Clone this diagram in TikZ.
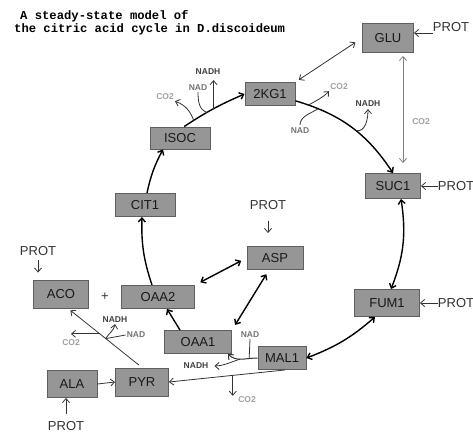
\documentclass[tikz,border=0pt]{standalone}
\usepackage{fontspec}
\setmainfont{Liberation Sans}
\newfontfamily\titlefont{Liberation Mono}
\usetikzlibrary{arrows.meta,calc}

\definecolor{boxfill}{RGB}{150,150,150}
\definecolor{boxline}{RGB}{95,95,95}
\definecolor{cogray}{RGB}{160,160,160}
\definecolor{nadgray}{RGB}{115,115,115}

\tikzset{
	met/.style={draw=boxline, fill=boxfill, line width=0.9pt, minimum height=23pt, inner sep=0pt,
		font=\fontsize{13}{13}\selectfont, text=black!90},
	prot/.style={inner sep=0pt, font=\fontsize{13}{13}\selectfont, text=black!80},
	cofac/.style={inner sep=1pt, font=\bfseries\fontsize{8.5}{8.5}\selectfont},
	cyc/.style={line width=1.4pt},
	link/.style={line width=0.8pt, draw=black!80},
}

\begin{document}
\begin{tikzpicture}[x=1pt,y=1pt,>={Straight Barb[length=4pt,width=7pt]}]
	\useasboundingbox (0,0) rectangle (473,432);
	
	\node[anchor=west,inner sep=0pt,font=\titlefont\bfseries\fontsize{12.2}{12.2}\selectfont] (title1) at (20,416) {A steady-state model of};
	\node[anchor=west,inner sep=0pt,font=\titlefont\bfseries\fontsize{12.2}{12.2}\selectfont] (title2) at (14,403) {the citric acid cycle in D.discoideum};
	
	% metabolites
	\node[met,minimum width=51pt,minimum height=29pt] (glu) at (388,394) {GLU};
	\node[met,minimum width=50pt] (kg) at (270,338) {2KG1};
	\node[met,minimum width=60pt,minimum height=22pt] (isoc) at (180,294) {ISOC};
	\node[met,minimum width=60pt] (cit) at (145,227) {CIT1};
	\node[met,minimum width=73pt] (oaa2) at (158,135) {OAA2};
	\node[met,minimum width=55pt,minimum height=28pt] (aco) at (61,138) {ACO};
	\node[met,minimum width=56pt] (asp) at (275,174) {ASP};
	\node[met,minimum width=67pt] (oaa1) at (198,90) {OAA1};
	\node[met,minimum width=48pt] (mal) at (282,74) {MAL1};
	\node[met,minimum width=53pt,minimum height=28pt] (pyr) at (142,50) {PYR};
	\node[met,minimum width=50pt,minimum height=27pt] (ala) at (72,48) {ALA};
	\node[met,minimum width=55pt,minimum height=25pt] (suc) at (393,246) {SUC1};
	\node[met,minimum width=65pt,minimum height=27pt] (fum) at (387,129) {FUM1};
	\node[prot] (plus) at (105,135) {+};
	
	% protein inputs
	\node[prot] (pglu) at (451,405) {PROT};
	\node[prot] (psuc) at (456,246) {PROT};
	\node[prot] (pfum) at (456,129) {PROT};
	\node[prot] (pasp) at (268,227) {PROT};
	\node[prot] (paco) at (38,181) {PROT};
	\node[prot] (pala) at (66,6) {PROT};
	
	\draw[link,->] (pglu.west |- 0,399) -- (glu.east |- 0,399);
	\draw[link,->] (psuc.west) -- (suc.east);
	\draw[link,->] (pfum.west) -- (fum.east);
	\draw[link,->,shorten <=11pt,shorten >=13pt] (pasp.south) -- (pasp.south |- asp.north);
	\draw[link,->,shorten <=4pt,shorten >=7pt] (paco.south) -- (paco.south |- aco.north);
	\draw[link,->,shorten <=7pt] (pala.north) -- (pala.north |- ala.south);
	
	% cofactor labels
	\node[cofac,text=cogray] (co2a) at (165,335) {CO2};
	\node[cofac,text=nadgray] (nada) at (198,344) {NAD};
	\node[cofac,text=black!75] (nadha) at (208,360) {NADH};
	\node[cofac,text=cogray] (co2b) at (339,345) {CO2};
	\node[cofac,text=nadgray] (nadb) at (300,301) {NAD};
	\node[cofac,text=black!75] (nadhb) at (368,328) {NADH};
	\node[cofac,text=cogray] (co2g) at (421,310) {CO2};
	\node[cofac,text=nadgray] (nadm) at (250,97) {NAD};
	\node[cofac,text=black!75] (nadhm) at (196,66) {NADH};
	\node[cofac,text=cogray] (co2m) at (247,32) {CO2};
	\node[cofac,text=black!75] (nadhp) at (115,112) {NADH};
	\node[cofac,text=nadgray] (nadp) at (136,97) {NAD};
	\node[cofac,text=cogray] (co2p) at (71,89) {CO2};
	
	% cycle
	\draw[cyc,->] (isoc.70) to[bend left=5] coordinate[pos=0.15] (i1) coordinate[pos=0.38] (i2) coordinate[pos=0.5] (i3) (kg.west);
	\draw[link,->] (i1) to[out=110,in=-20] (co2a.south east);
	\draw[link] (nada.south) to[out=-90,in=160] (i2);
	\draw[link,->,shorten >=4pt] (i3) -- (i3 |- nadha.south);
	
	\draw[cyc,->] (kg.-15) to[bend left=20] coordinate[pos=0.1] (k1) coordinate[pos=0.18] (k2) coordinate[pos=0.55] (k3) (suc.north);
	\draw[link,->] (k1) to[out=30,in=-135] (co2b.south west);
	\draw[link,shorten <=2pt] (nadb.north) to[out=90,in=-150] (k2);
	\draw[link,->,shorten >=1pt] (k3) to[out=-10,in=-90] (nadhb.south);
	
	\draw[cyc,<->] ($(suc.south)+(8,0)$) to[bend left=15] ($(fum.north)+(4,0)$);
	\draw[cyc,<->] ($(fum.south)+(-12,0)$) to[bend left=10] (mal.east);
	
	\draw[link,line width=1pt,->] (mal.west) to[out=180,in=-45] coordinate[pos=0.25] (m1) coordinate[pos=0.55] (m2) ($(oaa1.south east)+(-4,0)$);
	\draw[link] (nadm.south) -- (m1);
	\draw[link,->,shorten >=5pt] (m2) to[out=200,in=0] (nadhm.east);
	
	\draw[cyc,->] ($(oaa1.north)+(-18,0)$) -- ($(oaa2.south)+(9,0)$);
	\draw[cyc,->] ($(oaa2.north)+(-6,0)$) to[bend left=10] ($(cit.south)+(-3,0)$);
	\draw[cyc,->] ($(cit.north)+(2,0)$) to[bend left=8] ($(isoc.south)+(-17,0)$);
	
	% exchanges
	\draw[cyc,<->,shorten <=6pt,shorten >=6pt] (oaa2.north east) -- (asp.west);
	\draw[cyc,<->,shorten <=5pt,shorten >=6pt] ($(asp.south)+(-6,0)$) -- (oaa1.north east);
	\draw[link,<->,shorten <=4pt,shorten >=8pt] (kg.north east) -- (glu.west);
	\draw[line width=0.8pt,draw=gray,<->,shorten <=3pt,shorten >=10pt] ($(glu.south)+(15,0)$) -- ($(suc.north)+(10,0)$);
	
	% pyruvate branch
	\draw[link,->] ($(mal.south)+(3,0)$) -- coordinate[pos=0.45] (p1) (pyr.east);
	\draw[link,->] (p1) -- (p1 |- co2m.north);
	\draw[link,->,shorten <=4pt,shorten >=3pt] (pyr.north) -- coordinate[pos=0.49] (q1) coordinate[pos=0.57] (q2) ($(aco.south)+(7,0)$);
	\draw[link,->] (q1) to[out=60,in=-100] (nadhp.south);
	\draw[link] (nadp.west) -- (q1);
	\draw[link,->] (q2) -- (q2 -| co2p.north);
	\draw[link,->] (ala.east) -- (pyr.west);
	
\end{tikzpicture}
\end{document}
